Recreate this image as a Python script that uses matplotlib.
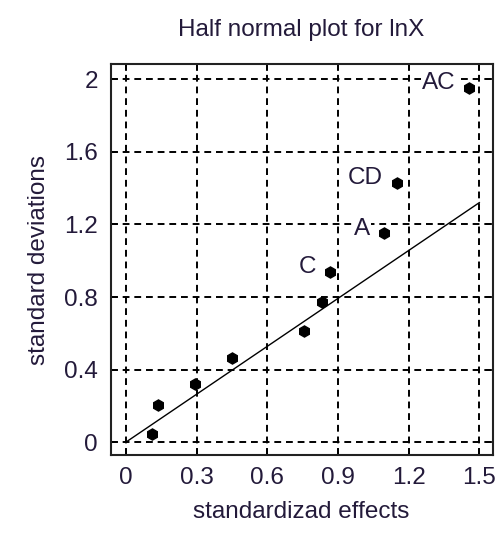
import matplotlib
matplotlib.use("Agg")
import matplotlib.pyplot as plt
import numpy as np

# data
effects = [0.109, 0.135, 0.294, 0.452, 0.757, 0.834, 0.866, 1.096, 1.151, 1.458]
std_devs = [0.044, 0.205, 0.321, 0.463, 0.613, 0.771, 0.940, 1.150, 1.430, 1.954]
labels = ["", "", "", "", "", "", "C", "A", "CD", "AC"]
line_x = [0.0, 1.5]
line_y = [0.0, 1.32]
xticks = [0, 0.3, 0.6, 0.9, 1.2, 1.5]
xticklabels = ["0", "0.3", "0.6", "0.9", "1.2", "1.5"]
yticks = [0, 0.4, 0.8, 1.2, 1.6, 2.0]
yticklabels = ["0", "0.4", "0.8", "1.2", "1.6", "2"]

plt.rcParams['font.family'] = ['Liberation Sans', 'DejaVu Sans']
txtcol = '#231a3a'
fs = 17.5

fig = plt.figure(figsize=(5.0, 5.39), dpi=100)
ax = fig.add_axes([0.221, 0.156, 0.764, 0.725])

ax.plot(line_x, line_y, color='black', lw=1.0, zorder=2)
ax.plot(effects, std_devs, linestyle='none', marker='h', markersize=8,
        color='black', zorder=3)
for x, y, t in zip(effects, std_devs, labels):
    if t:
        ax.annotate(t, (x, y), xytext=(-10, 3), textcoords='offset points',
                    ha='right', va='center', fontsize=fs, color=txtcol,
                    bbox=dict(boxstyle='square,pad=0.05', fc='white', ec='none'),
                    zorder=4)

ax.set_xlim(-0.065, 1.556)
ax.set_ylim(-0.07, 2.083)
ax.set_xticks(xticks)
ax.set_xticklabels(xticklabels)
ax.set_yticks(yticks)
ax.set_yticklabels(yticklabels)
ax.grid(True, color='black', linestyle=(0, (3.5, 2.5)), linewidth=1.4)
ax.tick_params(direction='in', length=5, width=1.2, top=True, right=True,
               labelsize=fs, labelcolor=txtcol, pad=9)
for s in ax.spines.values():
    s.set_linewidth(1.5)
    s.set_color('#222222')

ax.set_xlabel("standardizad effects", fontsize=fs, color=txtcol, labelpad=8)
ax.set_ylabel("standard deviations", fontsize=fs, color=txtcol, labelpad=10)
ax.set_title("Half normal plot for lnX", fontsize=fs, color=txtcol, pad=20)

fig.savefig("out.png", dpi=100)
